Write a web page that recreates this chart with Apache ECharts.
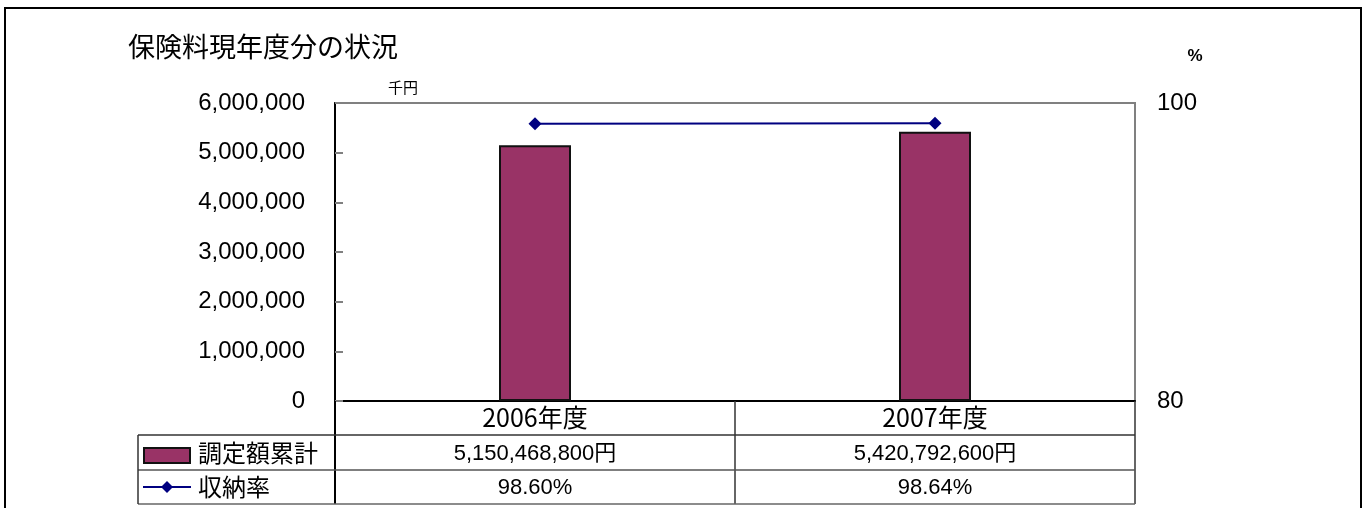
<!DOCTYPE html>
<html>
<head>
<meta charset="utf-8">
<script src="https://cdn.jsdelivr.net/npm/echarts@6/dist/echarts.min.js"></script>
<style>
html,body{margin:0;padding:0;background:#fff;}
#chart{width:1365px;height:508px;}
</style>
</head>
<body>
<div id="chart"></div>
<script>
// ---- data ----
var titleText = '保険料現年度分の状況';
var categories = ['2006年度', '2007年度'];
var amountName = '調定額累計';
var rateName = '収納率';
var amountsYen = [5150468800, 5420792600];          // table values (円)
var amountsThousand = [5150468.8, 5420792.6];       // bar values (千円)
var rates = [98.60, 98.64];                          // line values (%)
var leftUnit = '千円';
var rightUnit = '%';

// ---- layout constants ----
var GL = 335, GR = 1135, GT = 103, GB = 401;
var ROW1 = 435, ROW2 = 470, ROW3 = 504, TABLE_L = 138;
var CJK = '"Noto Sans CJK JP", sans-serif';
var MIX = '"Liberation Sans", "Noto Sans CJK JP", sans-serif';

function fmt(n){ return String(n).replace(/\B(?=(\d{3})+(?!\d))/g, ','); }

var chart = echarts.init(document.getElementById('chart'), null, {renderer:'canvas'});

var option = {
  animation: false,
  backgroundColor: '#fff',
  title: {
    text: titleText, left: 123, top: 28,
    textStyle: {fontFamily: CJK, fontSize: 27, fontWeight: 'normal', color: '#000'}
  },
  grid: {
    left: GL, right: 1365 - GR, top: GT, bottom: 508 - GB,
    show: true, borderColor: '#808080', borderWidth: 2, backgroundColor: '#fff'
  },
  xAxis: {
    type: 'category', data: categories, boundaryGap: true,
    axisLine: {show: true, lineStyle: {color: '#000', width: 2}},
    axisTick: {show: false},
    axisLabel: {margin: 4, fontFamily: CJK, fontSize: 25, color: '#000'},
    splitLine: {show: false}
  },
  yAxis: [{
    type: 'value', min: 0, max: 6000000, interval: 1000000,
    axisLine: {show: true, lineStyle: {color: '#000', width: 2}},
    axisTick: {show: true, inside: true, length: 8, lineStyle: {color: '#808080', width: 2}},
    axisLabel: {margin: 30, fontFamily: MIX, fontSize: 24, color: '#000', formatter: function(v){return fmt(v);}},
    splitLine: {show: false}
  }, {
    type: 'value', min: 80, max: 100, interval: 20, position: 'right',
    axisLine: {show: false}, axisTick: {show: false},
    axisLabel: {margin: 22, fontFamily: MIX, fontSize: 24, color: '#000'},
    splitLine: {show: false}
  }],
  series: [{
    name: amountName, type: 'bar', data: amountsThousand, yAxisIndex: 0,
    barWidth: 72,
    itemStyle: {color: '#993366', borderColor: '#111', borderWidth: 2}
  }, {
    name: rateName, type: 'line', data: rates, yAxisIndex: 1,
    symbol: 'diamond', symbolSize: 13, showSymbol: true,
    lineStyle: {color: '#000080', width: 2},
    itemStyle: {color: '#000080'}
  }]
};
chart.setOption(option);

// ---- data table & decorations ----
var g = [];
function line(x1,y1,x2,y2,c,w){ g.push({type:'line', shape:{x1:x1,y1:y1,x2:x2,y2:y2}, style:{stroke:c||'#000', lineWidth:w||1}, z:100}); }
function text(t,x,y,size,align,font){ g.push({type:'text', x:x, y:y, style:{text:t, fill:'#000', font:size+'px '+(font||MIX), align:align||'center', verticalAlign:'middle'}, z:101}); }

// outer frame
g.push({type:'rect', shape:{x:5, y:8, width:1356, height:520}, style:{fill:'none', stroke:'#000', lineWidth:2}, z:1});

// table grid
var colEdges = [GL, (GL+GR)/2, GR];
line(GL, GB, GL, ROW3, '#000', 2);
line(colEdges[1], GB, colEdges[1], ROW3, '#333', 1.5);
line(GR, GB, GR, ROW3, '#333', 1.5);
line(TABLE_L, ROW1, GR, ROW1, '#333', 1.5);
line(TABLE_L, ROW2, GR, ROW2, '#555', 1.5);
line(TABLE_L, ROW3, GR, ROW3, '#666', 1.5);
line(TABLE_L, ROW1, TABLE_L, ROW3, '#333', 1.5);

// legend keys in table
g.push({type:'rect', shape:{x:144, y:448, width:46, height:15}, style:{fill:'#993366', stroke:'#111', lineWidth:2}, z:101});
line(143, 487, 191, 487, '#000080', 2);
g.push({type:'polygon', shape:{points:[[167,481],[173,487],[167,493],[161,487]]}, style:{fill:'#000080'}, z:102});
text(amountName, 198, (ROW1+ROW2)/2, 24, 'left', CJK);
text(rateName, 198, (ROW2+ROW3)/2, 24, 'left', CJK);

// values
for (var i = 0; i < categories.length; i++) {
  var cx = chart.convertToPixel({xAxisIndex: 0}, i);
  text(fmt(amountsYen[i]) + '円', cx, (ROW1+ROW2)/2 + 1, 22);
  text(rates[i].toFixed(2) + '%', cx, (ROW2+ROW3)/2 + 1, 22);
}

// units
text(leftUnit, 403, 87, 15, 'center', CJK);
g.push({type:'text', x:1195, y:56, style:{text:rightUnit, fill:'#000', font:'bold 17px '+MIX, align:'center', verticalAlign:'middle'}, z:101});

chart.setOption({graphic: g});
</script>
</body>
</html>
